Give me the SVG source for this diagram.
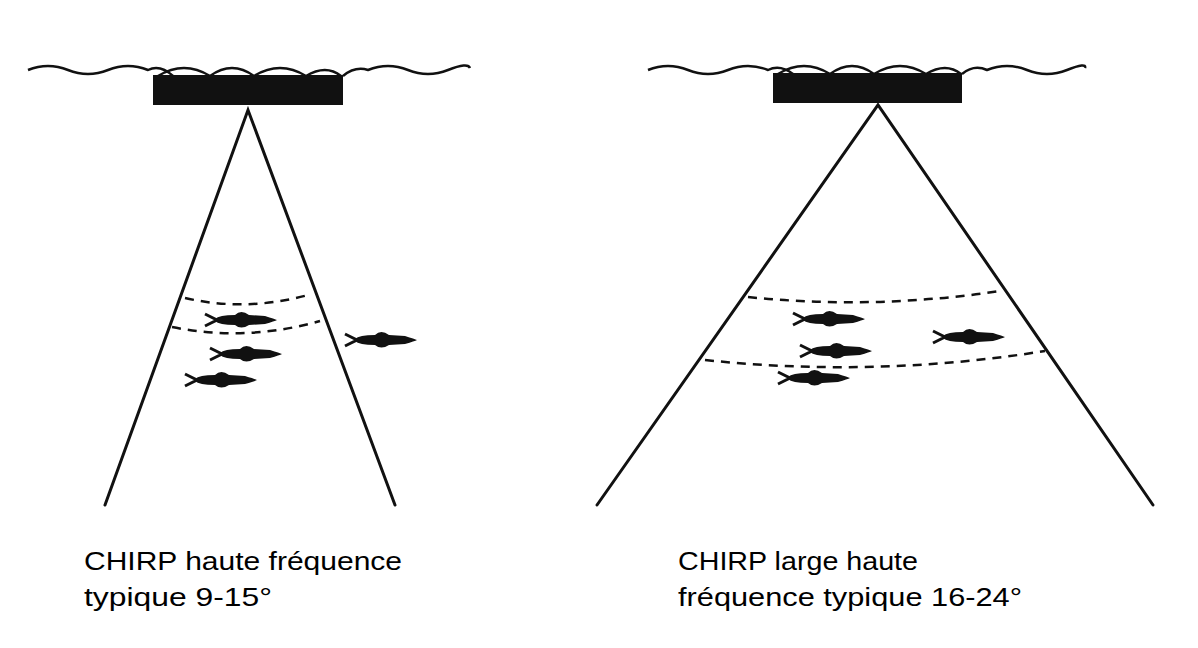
<svg xmlns="http://www.w3.org/2000/svg" width="1198" height="648" viewBox="0 0 1198 648">
<style>
.l{stroke:#111;stroke-width:3;fill:none;stroke-linecap:round}
.d{stroke:#111;stroke-width:2.5;fill:none;stroke-dasharray:9 7}
.w{stroke:#111;stroke-width:2.5;fill:none}
.t{font-family:"Liberation Sans",Arial,sans-serif;font-size:26px;fill:#000}
</style>
<defs>
<g id="fish">
<path d="M0,-6 L12,0 L0,6" stroke="#111" stroke-width="3" fill="none"/>
<path d="M10,-1 Q14,-5 30,-5 Q36,-11 44,-5 L60,-4 Q70,-1 72,0 Q70,1 60,4 L44,5 Q36,10 30,5 Q14,5 10,1Z" fill="#111"/>
</g>
</defs>
<g id="left">
<path class="w" d="M28,70 q20,-8 40,0 t40,0 t40,0 q12,-6 25,6"/>
<path class="w" d="M343,76 q12,-10 25,-6 q20,-8 40,0 t40,0 t22,-2"/>
<path class="w" d="M158,76 q26,-16 52,0 q22,-16 44,0 q26,-16 52,0 q20,-12 35,0"/>
<rect id="left-transducer" x="153" y="75" width="190" height="30" fill="#111"/>
<g id="left-fish">
<use href="#fish" x="205" y="320"/>
<use href="#fish" x="210" y="354"/>
<use href="#fish" x="185" y="380"/>
<use href="#fish" x="345" y="340"/>
</g>
<text class="t" x="84" y="570" textLength="318" lengthAdjust="spacingAndGlyphs">CHIRP haute fréquence</text>
<text class="t" x="84" y="606" textLength="188" lengthAdjust="spacingAndGlyphs">typique 9-15°</text>
</g>
<g id="right">
<path class="w" d="M648,70 q20,-8 40,0 t40,0 t40,0 q12,-6 25,4"/>
<path class="w" d="M962,74 q12,-10 25,-4 q20,-8 40,0 t40,0 t18,-2"/>
<path class="w" d="M778,74 q26,-16 52,0 q22,-16 44,0 q26,-16 52,0 q20,-12 35,0"/>
<rect id="right-transducer" x="773" y="73" width="189" height="30" fill="#111"/>
<g id="right-fish">
<use href="#fish" x="793" y="319"/>
<use href="#fish" x="800" y="351"/>
<use href="#fish" x="778" y="378"/>
<use href="#fish" x="933" y="337"/>
</g>
<text class="t" x="678" y="570" textLength="240" lengthAdjust="spacingAndGlyphs">CHIRP large haute</text>
<text class="t" x="678" y="606" textLength="344" lengthAdjust="spacingAndGlyphs">fréquence typique 16-24°</text>
</g>
<g id="connectors">
<path class="l" d="M105,505 L248,110 L395,505"/>
<path class="l" d="M597,505 L878,105 L1153,505"/>
<path class="d" d="M185,298 Q246,312 308,295"/>
<path class="d" d="M172,327 Q246,342 320,321"/>
<path class="d" d="M748,297 Q874,310 1000,291"/>
<path class="d" d="M705,360 Q875,378 1045,351"/>
</g>
</svg>
